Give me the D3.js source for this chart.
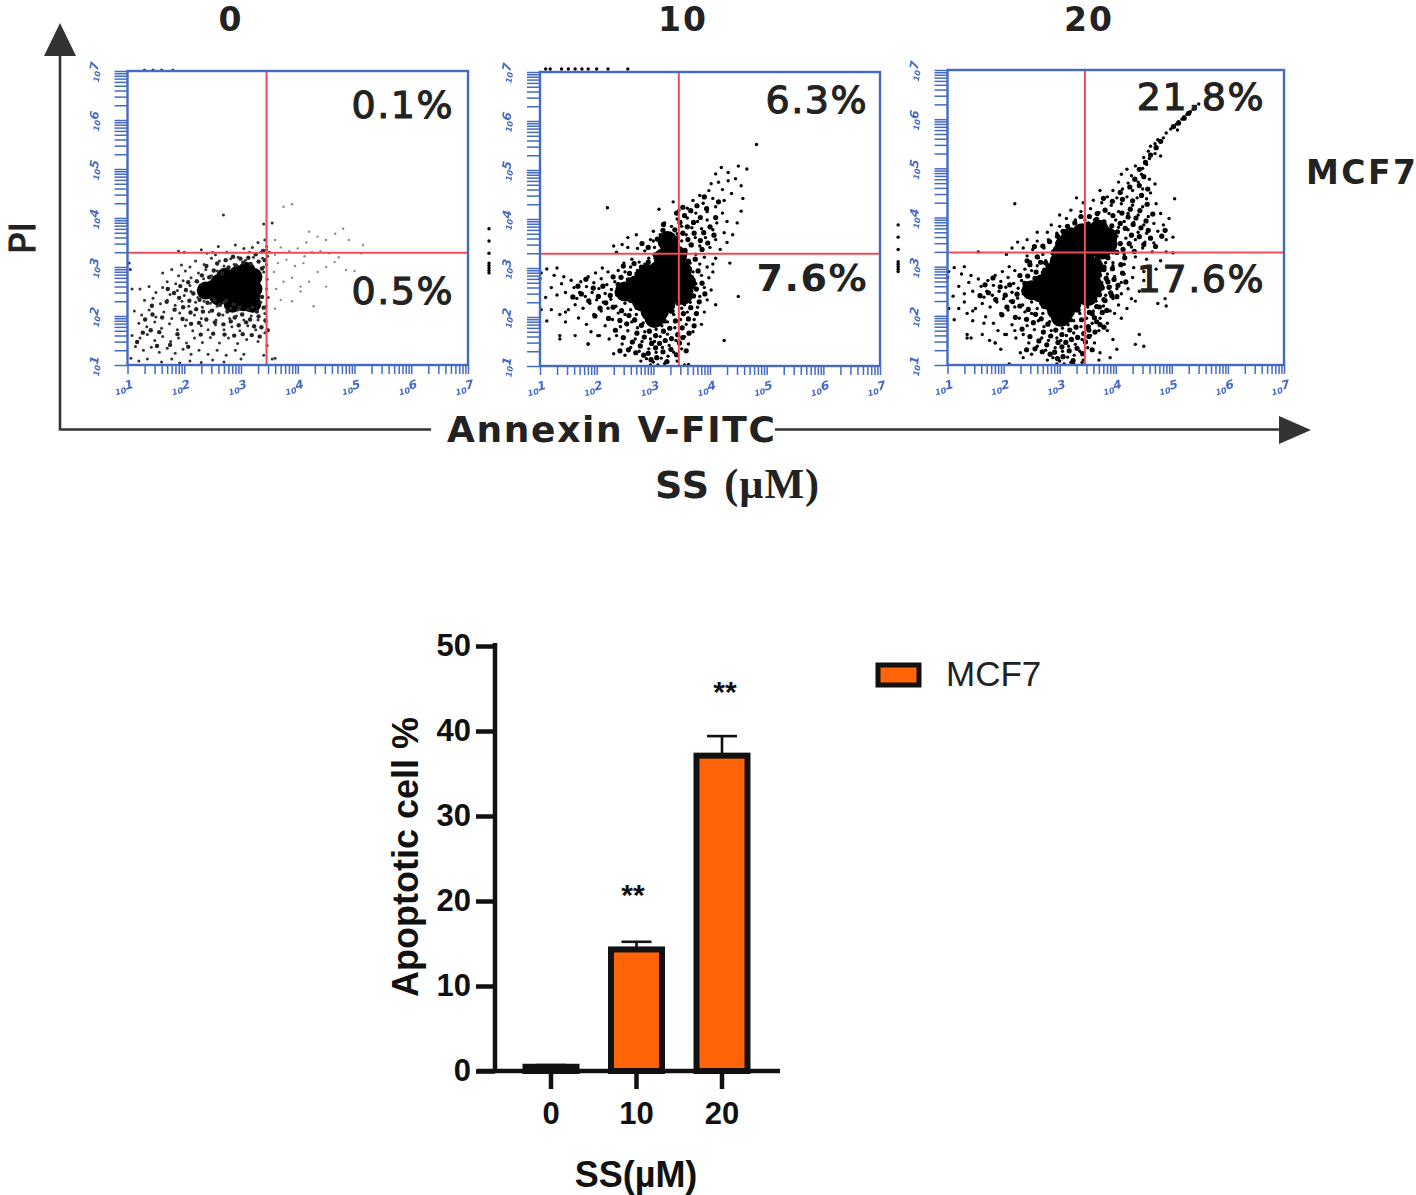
<!DOCTYPE html>
<html><head><meta charset="utf-8">
<script src="https://cdn.jsdelivr.net/npm/d3@7/dist/d3.min.js"></script>
<style>html,body{margin:0;padding:0;background:#fff}svg{display:block}</style></head>
<body><svg id="c" width="1416" height="1195"></svg>
<script>
// ---------- data ----------
const doses=["0","10","20"];
const apoptosis=[0.5,14.3,37.1];
const apoptosisErr=[0.7,15.2,39.4];
const starsOn=["10","20"];
const yTicks=[0,10,20,30,40,50];
const decades=[1,2,3,4,5,6,7];
const pctUpper=["0.1%","6.3%","21.8%"];
const pctLower=["0.5%","7.6%","17.6%"];
const gateX=[3.45,3.45,3.45];
const gateY=[3.29,3.29,3.29];

// all points: [log10 Annexin, log10 PI]
const p1Core=[[2.5,2.55],[2.65,2.55],[2.8,2.55],[2.95,2.55],[3.1,2.55],[3.22,2.55],[2.85,2.7],[3,2.72],[3.14,2.75],[3.22,2.8],[2.95,2.85],[3.1,2.92],[3.18,2.42],[3,2.4],[2.85,2.42],[3.05,2.28],[2.38,2.52],[2.62,2.68],[2.6,2.4],[2.72,2.8],[2.85,2.25],[3.2,2.25]];
const p1Halo=[[2.22,2.71],[2.31,2.83],[2.44,2.79],[2.52,2.93],[2.67,2.87],[2.78,2.99],[2.91,3.03],[3.04,3.09],[3.17,3.06],[3.31,3.11],[3.42,3.14],[3.37,2.97],[2.39,3.02],[2.58,3.07],[2.73,3.14],[2.86,3.21],[2.99,3.17],[3.13,3.19],[3.26,3.26],[3.39,3.33],[2.16,2.46],[2.09,2.31],[2.27,2.33],[2.41,2.27],[2.53,2.34],[2.63,2.23],[2.74,2.31],[2.87,2.24],[2.97,2.18],[3.13,2.13],[3.28,2.09],[3.4,2.17],[3.37,2.39],[2.49,2.11],[2.61,2.03],[2.76,2.09],[2.89,1.97],[3.02,2.03],[3.16,1.93],[3.31,1.99],[3.43,1.91],[2.33,2.09],[2.21,2.14],[2.11,2.07],[1.98,2.18],[1.91,2.37],[2.03,2.53],[1.93,2.61],[2.07,2.69],[1.82,2.47],[1.71,2.55],[1.69,2.29],[1.83,2.13],[2.54,1.87],[2.69,1.83],[2.82,1.89],[2.96,1.81],[3.09,1.87],[3.23,1.79],[3.36,1.77],[3.47,1.71],[2.26,1.86],[2.39,1.93],[2.12,1.84],[1.97,1.94],[3.03,1.63],[2.88,1.6],[3.19,1.61],[3.33,1.58],[2.71,1.62],[2.51,1.64],[1.56,1.67],[1.41,1.71],[1.27,1.66],[1.52,1.39],[1.75,1.41],[1.17,1.47],[2.07,1.37],[1.88,1.63],[1.61,1.97],[1.44,2.03],[1.31,1.93],[1.43,2.21],[2.29,1.62]];
const p1Cloud=[
[2.3,3.35],[2.6,3.42],[2.75,3.3],[2.9,3.45],[3.05,3.38],[3.2,3.4],[3.3,3.5],[3.42,3.55],[3.45,3.35],[3.35,3.3],[3.15,3.3],[2.5,3.3],[2.4,3.28],[1.9,3.32],[2,3.3],[2.2,3.12],[2.35,3.05],[2.48,3.18],[2.62,3.12],[2.7,3.02],[2.82,3.17],[2.95,3.2],[3.08,3.14],[3.22,3.2],[3.38,3.18],[3.45,3.05],[1.95,3.04],[2.1,3.0],[3.4,3.0],[3.47,3.22],[2.55,3.25],[2.88,3.05],
[1.62,2.88],[1.78,2.95],[1.9,2.82],[2.02,2.92],[2.12,2.78],[2.25,2.88],[2.38,2.95],[2.48,2.82],[2.58,2.92],[1.7,2.7],[1.85,2.66],[1.98,2.72],[2.1,2.62],[2.24,2.7],[2.34,2.76],[3.4,2.9],[3.46,2.75],[3.45,2.55],[3.48,2.38],[3.44,2.2],
[1.22,2.55],[1.38,2.6],[1.5,2.48],[1.62,2.58],[1.75,2.44],[1.88,2.52],[2,2.42],[2.12,2.5],[2.24,2.38],[2.35,2.3],[1.3,2.32],[1.45,2.36],[1.58,2.25],[1.7,2.32],[1.84,2.22],[1.96,2.3],[2.08,2.2],[2.2,2.28],[2.32,2.18],[2.46,2.26],[2.58,2.2],[2.7,2.28],[2.82,2.16],[2.95,2.12],[3.2,2.18],[3.35,2.28],[3.42,2.05],
[1.12,2.1],[1.25,2.02],[1.38,2.12],[1.5,1.98],[1.64,2.08],[1.78,1.95],[1.92,2.06],[2.04,1.92],[2.18,2.02],[2.3,1.95],[2.44,2.08],[2.56,1.92],[2.68,2.02],[2.8,1.95],[2.92,2.0],[3.05,1.92],[3.18,2.0],[3.3,1.92],[3.44,1.88],[1.2,1.85],[1.34,1.78],[1.48,1.88],[1.6,1.75],[1.74,1.84],[1.88,1.72],[2.02,1.8],[2.15,1.7],[2.3,1.8],[2.42,1.72],[2.55,1.82],[2.7,1.72],[2.84,1.78],[2.98,1.7],[3.12,1.8],[3.26,1.72],[3.42,1.66],
[1.08,1.6],[1.22,1.55],[1.35,1.62],[1.48,1.5],[1.62,1.58],[1.76,1.48],[1.9,1.55],[2.04,1.45],[2.18,1.55],[2.32,1.46],[2.46,1.56],[2.62,1.45],[2.78,1.55],[2.94,1.44],[3.1,1.52],[3.3,1.48],[3.46,1.4],[1.14,1.38],[1.28,1.3],[1.42,1.36],[1.56,1.26],[1.7,1.34],[1.84,1.24],[1.98,1.32],[2.12,1.22],[2.26,1.3],[2.42,1.22],[2.58,1.3],[2.74,1.2],[2.9,1.3],[3.05,1.22],[3.4,1.2],
[1.06,1.14],[1.2,1.08],[1.35,1.12],[1.6,1.06],[1.78,1.12],[1.92,1.04],[2.1,1.08],[2.3,1.05],[2.5,1.1],[2.7,1.06],[3.0,1.12],[3.55,1.12]];
const p1Faint=[[3.75,4.23],[3.9,4.28],[4.2,3.72],[4.35,3.62],[4.5,3.55],[4.66,3.68],[4.8,3.78],[4.9,3.55],[5.15,3.45],[5.12,3.28],[4.85,2.94],[5,2.92],[3.7,2.33],[4.28,2.2],[3.9,2.3],[3.62,2.55],[3.75,2.7],[3.9,2.78],[4.05,2.6],[4.2,2.7],[4.35,2.9],[4.5,3.0],[4.65,3.1],[3.6,3.25],[3.7,3.4],[3.85,3.32],[4,3.38],[4.12,3.22],[4.25,3.3],[4.4,3.32],[4.55,3.28],[4.72,3.2],[3.65,3.08],[3.8,3.15],[3.95,3.02],[4.1,3.08],[3.58,2.9],[3.6,2.15],[4.15,3.5],[3.6,3.55],[4.05,2.5],[4.5,2.6]];
const p1Dark=[[3.55,3.9],[3.4,3.88],[2.69,4.06],[3.5,3.3],[3.45,3.42],[1.03,3.08],[1.05,2.95],[1.08,2.55],[3.6,1.14]];
const p1Top=[[1.3,7.02],[1.45,7.02],[1.6,7.02],[1.8,7.02]];

const sharedCore=[[2.5,2.52],[2.65,2.48],[2.8,2.5],[2.95,2.5],[3.1,2.5],[3.25,2.5],[2.7,2.65],[2.85,2.7],[3,2.72],[3.15,2.75],[3.3,2.72],[3.38,2.85],[2.9,2.88],[3.1,2.95],[3.28,3.0],[2.8,2.32],[2.95,2.3],[3.1,2.3],[2.95,2.12],[3.1,2.12],[3.02,1.98],[3.22,2.3]];
const sharedHalo=[[2.38,2.66],[2.29,2.82],[2.43,2.81],[2.36,2.51],[2.24,2.44],[2.11,2.63],[2.03,2.42],[1.94,2.59],[1.86,2.33],[2.16,2.29],[2.29,2.2],[2.44,2.13],[2.57,2.03],[2.41,1.93],[2.53,1.86],[2.67,1.94],[2.79,1.83],[2.71,1.67],[2.84,1.59],[2.63,1.49],[2.77,1.41],[2.69,1.27],[2.83,1.22],[2.93,1.71],[2.97,1.46],[2.91,1.26],[3.04,1.62],[3.11,1.46],[3.04,1.37],[3.18,1.71],[3.21,1.52],[3.17,1.29],[3.06,1.17],[2.96,1.13],[3.24,1.09],[3.29,1.77],[3.32,1.56],[3.31,1.34],[3.39,1.92],[3.43,1.64],[3.19,1.92],[3.33,2.12],[3.44,2.28],[3.53,2.07],[3.62,1.96],[3.51,1.78],[3.63,1.67],[3.72,1.82],[3.66,2.19],[3.76,2.07],[3.59,2.36],[3.71,2.43],[3.81,2.31],[3.64,2.61],[3.76,2.57],[3.86,2.69],[3.67,2.81],[3.79,2.94],[3.54,3.02],[3.64,2.98],[3.91,2.47],[2.47,3.04],[2.58,2.89],[2.66,3.09],[2.79,3.02],[2.91,3.12],[3.02,3.06],[3.17,3.17],[2.71,2.88],[2.56,2.76],[1.73,2.47],[1.67,2.63],[1.58,2.41],[1.81,2.77],[2.06,2.18],[1.97,2.02],[2.21,1.97],[2.33,1.73],[2.47,1.58],[2.56,1.33],[2.41,1.31],[3.46,1.47],[3.41,1.23],[3.52,1.58],[3.58,1.31]];
const sharedCloud=[
[1.12,2.98],[1.3,3.0],[1.25,2.85],[1.42,2.82],[1.38,2.68],[1.55,2.75],[1.2,2.6],[1.1,2.4],[1.3,2.45],[1.45,2.5],[1.6,2.6],[1.72,2.72],[1.85,2.82],[1.98,2.9],[2.1,3.0],[2.2,2.92],[1.7,2.5],[1.82,2.62],[1.95,2.7],[2.08,2.78],[2.18,2.66],[1.65,2.38],[1.8,2.42],[1.92,2.5],[2.04,2.58],[2.15,2.48],[2.26,2.56],[2.32,2.72],[1.2,2.15],[1.35,2.05],[1.5,2.15],[1.62,2.25],[1.76,2.18],[1.88,2.28],[2,2.35],[2.12,2.3],[2.25,2.36],[1.12,1.92],[1.45,1.9],[1.68,1.98],[1.82,1.85],[1.95,2.05],[2.08,2.12],[2.2,2.18],[2.34,2.22],[1.35,1.55],[1.62,1.62],[1.9,1.7],[1.85,1.45],[2.05,1.62],[2.15,1.82],[2.28,1.95],[2.38,2.08],[2.42,1.8],[2.5,2.05],[2.6,2.15],[2.22,1.55],[2.35,1.62],[2.45,1.45],[2.55,1.72],[2.62,1.9],[2.7,2.05],[2.72,1.78],[2.68,1.55],[2.6,1.38],[2.5,1.22],[2.75,1.3],[2.8,1.5],[2.85,1.7],[2.9,1.9],[2.3,1.25],[2.95,1.55],[2.92,1.35],[2.88,1.15],[3.05,1.75],[3.02,1.5],[3.05,1.28],[3,1.08],[3.15,1.82],[3.12,1.6],[3.16,1.38],[3.14,1.16],[3.25,1.9],[3.25,1.65],[3.28,1.42],[3.26,1.2],[3.36,2.05],[3.38,1.78],[3.4,1.52],[3.36,1.28],[3.42,1.1],[2.78,1.1],[2.95,1.02],[3.08,1.02],[3.2,1.05],[3.5,1.35],[3.55,1.6],[3.58,1.85],[3.62,1.45],[3.6,2.1],[3.48,1.95],[3.7,1.7],[3.72,1.95],[3.78,2.2],[3.65,2.3],[3.55,2.25],[3.85,1.85],[3.9,2.1],[3.82,2.42],[3.68,2.52],[3.58,2.45],[3.95,2.35],[3.9,2.6],[3.75,2.68],[3.62,2.72],[3.5,2.62],[4.02,2.55],[3.98,2.8],[3.85,2.85],[3.7,2.92],[3.55,2.85],[3.5,3.05],[3.65,3.1],[3.82,3.08],[3.95,3.02],[2.5,2.92],[2.6,3.02],[2.72,2.95],[2.75,3.12],[2.62,3.18],[2.48,3.1],[2.85,3.08],[2.92,3.2],[3.05,3.12],[3.1,3.25],[2.38,2.95],[2.42,2.38],[2.5,2.28],[2.6,2.32],[2.7,2.18],[2.35,2.45],[3.42,2.4],[3.5,2.18],[3.35,2.2],[3.3,2.1],[2.85,2.02],[3.22,2.08],[2.98,1.85],[3.08,1.92],[3.5,2.9],[3.48,2.72],[2.82,1.88]];
const sharedDark=[[1.02,2.9],[1.0,2.78],[1.02,2.15],[1.45,2.1],[2.02,1.62],[1.35,1.62],[1.85,1.45]];
const p2Core=[[3.3,3.42],[3.25,3.55],[3.42,3.25],[3.18,3.2],[3.5,2.95],[3.58,2.7],[3.52,2.45]];
const p2Halo=[[3.07,3.59],[3.14,3.48],[3.22,3.63],[3.17,3.77],[3.31,3.66],[3.42,3.61],[3.38,3.78],[3.52,3.71],[3.61,3.58],[3.47,3.93],[3.6,3.84],[3.72,3.71],[3.83,3.56],[3.67,3.47],[3.56,3.36],[3.74,3.18],[3.86,3.38],[3.96,3.51],[3.89,3.72],[3.71,3.93],[3.55,4.07],[3.41,4.12],[3.52,4.24],[3.66,4.17],[3.83,4.03],[4,3.84],[4.07,3.67],[3.94,4.21],[3.77,4.27],[4.1,4.03],[3.9,4.45],[4.15,4.35],[3.03,3.27],[2.91,3.42],[2.8,3.5],[3.18,3.89],[3.5,3.2],[3.62,3.14]];
const p2Extra=[[4.82,5.52],[2.19,4.23],[4.65,5.02],[4.5,5.08],[4.2,5.05],[4.1,4.92],[4.32,4.95],[4.45,4.82],[4.32,4.78],[4.15,4.75],[4.02,4.72],[4.55,4.68],[3.98,4.58],[4.22,4.6],[4.38,4.52],[4.58,4.42],[3.82,4.48],[4.05,4.42],[4.25,4.38],[3.7,4.38],[3.88,4.32],[4.1,4.25],[4.55,4.16],[3.35,4.35],[3.1,4.2],[3.45,4.18],[3.6,4.22],[3.75,4.12],[3.95,4.15],[4.22,4.12],[3.42,4.0],[3.6,4.02],[3.78,3.95],[3.95,3.98],[4.12,3.92],[4.3,3.95],[4.48,3.92],[3.2,3.92],[3.32,3.85],[3.5,3.85],[3.68,3.82],[3.85,3.8],[4.05,3.78],[4.25,3.72],[4.4,3.68],[3.0,3.75],[3.12,3.68],[3.25,3.72],[3.42,3.7],[3.58,3.68],[3.74,3.62],[3.92,3.62],[4.1,3.58],[4.3,3.52],[3.0,3.55],[3.5,3.55],[3.65,3.48],[3.82,3.45],[4,3.42],[4.18,3.38],[2.55,3.62],[2.7,3.68],[2.95,3.58],[2.3,3.45],[2.45,3.48],[2.35,3.32],[2.55,3.42],[2.72,3.4],[2.85,3.35],[3.02,3.42],[3.58,3.3],[3.75,3.28],[3.9,3.22],[4.1,3.2],[4.35,3.1],[4.05,3.08],[4.05,2.92],[4.5,2.42],[4.1,2.25],[4.25,1.52],[3.55,1.02],[3.62,1.03]];
const p2Top=[[1.1,7.06],[1.18,7.06],[1.38,7.06],[1.5,7.06],[1.62,7.06],[1.74,7.06],[1.85,7.06],[2.0,7.06],[2.2,7.06],[2.55,7.06]];
const p2Left=[[0.1,3.8],[0.1,3.55],[0.1,3.3],[0.1,3.1],[0.1,3.05],[0.1,3.0],[0.1,2.95],[0.1,2.9]];

const p3Core=[[3.3,3.3],[3.45,3.15],[3.6,3.0],[3.55,2.8],[3.4,3.45],[3.25,3.48],[3.55,3.45],[3.7,3.55],[3.85,3.6],[3.55,3.65],[3.4,3.68],[3.7,3.75],[3.2,3.2],[3.05,3.3],[3.75,3.35],[3.6,2.6],[3.5,2.4],[3.0,3.1],[3.2,3.6],[3.1,3.45],[3.85,3.45]];
const p3Halo=[[2.6,3.2],[2.75,3.08],[2.88,3.28],[2.7,3.42],[2.82,3.51],[2.96,3.62],[3.06,3.72],[3.14,3.82],[3.27,3.89],[3.38,4.02],[3.51,3.87],[3.66,3.96],[3.79,3.91],[3.93,3.83],[4.03,3.71],[3.97,3.58],[4.08,3.47],[4.02,3.29],[4.16,3.18],[4.09,3.04],[3.94,2.96],[3.86,3.18],[3.79,2.99],[3.71,2.83],[3.83,2.76],[3.74,2.62],[3.88,2.58],[3.97,2.74],[3.68,2.44],[3.79,2.33],[3.93,2.41],[3.71,2.18],[3.84,2.11],[3.58,2.04],[3.66,1.88],[3.79,1.77],[3.52,1.71],[4.04,2.62],[4.12,2.87],[4.18,2.69],[4.02,2.39],[4.13,3.35],[4.24,3.47],[4.33,3.31],[4.42,3.61],[4.28,3.64],[4.17,3.78],[4.31,3.86],[4.45,3.79],[4.58,3.74],[4.62,3.58],[4.5,3.45],[4.71,3.41],[4.82,3.62],[4.88,3.74],[4.08,3.88],[4.22,4.01],[4.36,3.99],[4.54,3.93],[4.66,4.07],[3.53,4.02],[3.67,4.08],[3.81,4.15],[3.95,4.04],[4.11,4.09],[4.26,4.17],[4.43,4.14],[4.56,4.27],[3.78,4.39],[3.94,4.33],[4.12,4.37],[4.3,4.34],[4.46,4.45],[4.08,4.51],[4.25,4.62],[4.42,4.65],[4.57,4.58],[4.34,4.78],[4.5,4.83],[4.42,4.98],[4.53,5.12],[4.62,5.27],[4.72,5.42],[4.8,5.55],[5.03,5.85],[5.12,5.92],[5.22,6.02],[5.3,6.12],[2.42,3.12],[2.55,3.41]];
const p3Extra=[[5.48,6.31],[5.42,6.25],[5.38,6.2],[5.33,6.15],[5.27,6.1],[5.22,6.05],[5.18,6.0],[5.12,5.95],[5.08,5.9],[5.03,5.85],[4.98,5.8],[5.1,5.78],[4.9,5.72],[4.85,5.62],[4.75,5.58],[4.7,5.5],[4.62,5.45],[4.58,5.35],[4.7,5.3],[4.8,5.25],[4.5,5.22],[4.6,5.2],[4.55,5.08],[4.48,5.0],[4.35,5.05],[4.2,4.98],[4.46,4.88],[4.6,4.78],[4.28,4.85],[4.1,4.88],[4.05,4.72],[4.22,4.7],[4.4,4.72],[4.7,4.68],[3.95,4.55],[4.12,4.58],[4.3,4.55],[4.48,4.58],[4.62,4.5],[3.72,4.55],[3.85,4.42],[4.02,4.4],[4.2,4.42],[4.38,4.4],[4.55,4.38],[5.05,4.38],[3.6,4.35],[3.75,4.3],[3.92,4.25],[4.1,4.28],[4.3,4.25],[4.48,4.22],[4.72,4.28],[2.2,4.28],[3.3,4.4],[3.42,4.3],[3.2,4.15],[3.38,4.12],[3.55,4.18],[3.7,4.1],[3.88,4.08],[4.05,4.12],[4.22,4.08],[4.4,4.05],[4.58,4.02],[4.8,4.08],[3.0,4.05],[3.12,3.98],[3.28,3.95],[3.45,3.95],[3.62,3.95],[4.0,3.95],[4.15,3.92],[4.32,3.9],[4.5,3.85],[4.68,3.88],[4.85,3.85],[4.95,3.98],[2.85,3.85],[3.0,3.82],[3.15,3.8],[3.3,3.78],[4.05,3.8],[4.22,3.75],[4.4,3.7],[4.55,3.68],[4.75,3.72],[2.6,3.7],[2.78,3.7],[2.95,3.68],[3.1,3.65],[4.02,3.62],[4.18,3.58],[4.35,3.55],[4.52,3.5],[4.68,3.48],[4.9,3.55],[5.02,3.6],[2.25,3.5],[2.42,3.55],[2.6,3.52],[2.8,3.55],[2.95,3.48],[4.08,3.45],[4.28,3.4],[4.48,3.38],[4.65,3.3],[4.9,3.3],[5.02,3.28],[2.15,3.38],[2.35,3.38],[2.52,3.35],[2.72,3.38],[2.88,3.32],[3.95,3.28],[4.15,3.25],[4.35,3.2],[4.55,3.15],[4.8,3.12],[2.05,3.25],[1.55,3.3],[2.42,3.22],[2.7,3.25],[3.95,3.08],[4.15,3.05],[4.32,2.98],[4.5,2.9],[4.72,2.95],[4.15,2.85],[4.3,2.78],[4.5,2.72],[4.1,2.68],[4.22,2.55],[4.42,2.5],[4.1,2.45],[4.28,2.35],[4.05,2.22],[4.2,2.15],[4.35,2.3],[3.98,2.05],[4.1,1.95],[3.85,1.7],[3.95,1.52],[4.02,1.32],[3.72,1.25],[4.35,1.42],[4.5,1.38],[4.75,2.25],[4.9,2.2],[4.88,2.35],[4.42,1.62],[3.4,1.05],[3.7,1.1],[3.25,1.02],[3.9,1.15],[1.75,1.5],[2.2,1.7],[1.42,1.55],[1.65,1.85],[1.3,2.28],[1.95,1.32],[2.35,1.15],[2.1,1.02]];
const p3Left=[[0.12,3.85],[0.12,3.6],[0.12,3.35],[0.12,3.1],[0.12,3.05],[0.12,3.0],[0.12,2.95],[0.12,2.9]];

const panels=[
 {name:doses[0],core:[p1Core],halo:[p1Halo],cloud:[p1Cloud,p1Dark,p1Top],faint:p1Faint,box:[127.5,468,71,365],head:231,lab:[[454,118],[454,304]],lblW:[400,400]},
 {name:doses[1],core:[sharedCore,p2Core],halo:[sharedHalo,p2Halo],cloud:[sharedCloud,sharedDark,p2Extra,p2Top,p2Left],faint:[],box:[540,880,72,366],head:683,lab:[[868,113],[868,291]],lblW:[400,700]},
 {name:doses[2],core:[sharedCore,p3Core],halo:[sharedHalo,p3Halo],cloud:[sharedCloud,sharedDark,p3Extra,p3Left],faint:[],box:[947.5,1284,70,365],head:1089,lab:[[1265,110],[1265,292]],lblW:[400,400]}
];

// ---------- drawing ----------
const svg=d3.select("#c");
const defs=svg.append("defs");
defs.append("filter").attr("id","soft").append("feGaussianBlur").attr("stdDeviation",0.5);
const SANS="'DejaVu Sans',sans-serif", ARIAL="'Liberation Sans',Arial,sans-serif";
const BLUE="#456ac4", RED="#ee4b55", INK="#222";

function minorTicks(){const t=[];for(let d=1;d<7;d++){[1,2,3,4,5,6,7,8,9].forEach(k=>t.push(k*10**d));}t.push(1e7);return t;}

panels.forEach((p,i)=>{
  const [x0,x1,y0,y1]=p.box;
  const g=svg.append("g").attr("filter","url(#soft)");
  const x=d3.scaleLog().domain([10,1e7]).range([x0,x1]);
  const y=d3.scaleLog().domain([10,1e7]).range([y1,y0]);
  const X=v=>x(10**v), Y=v=>y(10**v);

  const pts=g.append("g");
  p.core.forEach(a=>pts.append("g").selectAll("circle").data(a).join("circle")
     .attr("cx",d=>X(d[0])).attr("cy",d=>Y(d[1])).attr("r",i===0?9:10).attr("fill","#000"));
  p.halo.forEach(a=>pts.append("g").selectAll("circle").data(a).join("circle")
     .attr("cx",d=>X(d[0])).attr("cy",d=>Y(d[1])).attr("r",i===0?2.2:2.6).attr("fill",i===0?"#222":"#000"));
  p.faint.length&&pts.append("g").selectAll("circle").data(p.faint).join("circle")
     .attr("cx",d=>X(d[0])).attr("cy",d=>Y(d[1])).attr("r",1.2).attr("fill","#8a8a8a");
  p.cloud.forEach(a=>pts.append("g").selectAll("circle").data(a).join("circle")
     .attr("cx",d=>X(d[0])).attr("cy",d=>Y(d[1])).attr("r",i===0?1.5:1.7).attr("fill",i===0?"#333":"#000"));

  // quadrant gates
  g.append("line").attr("x1",X(gateX[i])).attr("x2",X(gateX[i])).attr("y1",y0).attr("y2",y1).attr("stroke",RED).attr("stroke-width",2);
  g.append("line").attr("x1",x0).attr("x2",x1).attr("y1",Y(gateY[i])).attr("y2",Y(gateY[i])).attr("stroke",RED).attr("stroke-width",2);

  // blue frame and log axes
  g.append("rect").attr("x",x0).attr("y",y0).attr("width",x1-x0).attr("height",y1-y0).attr("fill","none").attr("stroke",BLUE).attr("stroke-width",2.4);
  const ax=d3.axisBottom(x).tickValues(minorTicks()).tickSize(9).tickFormat("");
  const gx=g.append("g").attr("transform",`translate(0,${y1})`).call(ax);
  const ay=d3.axisLeft(y).tickValues(minorTicks()).tickSize(13).tickFormat("");
  const gy=g.append("g").attr("transform",`translate(${x0},0)`).call(ay);
  [gx,gy].forEach(s=>{s.select(".domain").remove();s.selectAll("line").attr("stroke",BLUE).attr("stroke-width",1.5);});
  decades.forEach(d=>{
    const tx=g.append("text").attr("transform",`translate(${X(d)-2},${y1+28}) rotate(-14)`).attr("text-anchor","middle")
      .attr("fill",BLUE).attr("font-family",SANS).attr("font-style","italic").attr("font-weight","bold");
    tx.append("tspan").attr("font-size",8).text("10");tx.append("tspan").attr("font-size",12).attr("dy",-3).text(d);
    const ty=g.append("text").attr("transform",`translate(${x0-27},${Y(d)+2}) rotate(-80)`).attr("text-anchor","middle")
      .attr("fill",BLUE).attr("font-family",SANS).attr("font-style","italic").attr("font-weight","bold");
    ty.append("tspan").attr("font-size",8).text("10");ty.append("tspan").attr("font-size",12).attr("dy",-3).text(d);
  });

  // labels
  svg.append("text").attr("x",p.head).attr("y",31).attr("text-anchor","middle").attr("font-family",SANS).attr("font-weight",700).attr("font-size",33).attr("letter-spacing",2).attr("fill",INK).text(p.name);
  [pctUpper[i],pctLower[i]].forEach((t,k)=>{
    svg.append("text").attr("x",p.lab[k][0]).attr("y",p.lab[k][1]).attr("text-anchor","end").attr("font-family",SANS)
      .attr("font-weight",p.lblW[k]).attr("font-size",38).attr("letter-spacing",1.5)
      .attr("fill",INK).attr("stroke",p.lblW[k]===400?INK:"none").attr("stroke-width",1.1).text(t);
  });
});

// flow-cytometry outer arrows
const AR="#333";
svg.append("path").attr("d","M60,50V429.5H431M775,429.5H1285").attr("fill","none").attr("stroke",AR).attr("stroke-width",2.6);
svg.append("path").attr("d","M60,23L44,56H76Z").attr("fill",AR);
svg.append("path").attr("d","M1311,430L1279,416V444Z").attr("fill",AR);
svg.append("text").attr("transform","translate(35,238) rotate(-90)").attr("text-anchor","middle").attr("font-family",SANS).attr("font-size",36).attr("stroke",INK).attr("stroke-width",1).attr("fill",INK).text("PI");
svg.append("text").attr("x",447).attr("y",442).attr("textLength",328).attr("font-family",SANS).attr("font-weight",700).attr("font-size",36).attr("fill",INK).text("Annexin V-FITC");
svg.append("text").attr("x",1306).attr("y",184).attr("textLength",110).attr("font-family",SANS).attr("font-weight",700).attr("font-size",33).attr("fill",INK).text("MCF7");
const ss=svg.append("text").attr("x",655).attr("y",498).attr("font-weight",700).attr("fill",INK);
ss.append("tspan").attr("font-family",SANS).attr("font-size",38).attr("letter-spacing",1).text("SS ");
ss.append("tspan").attr("font-family","'Liberation Serif',serif").attr("font-size",42).attr("letter-spacing",1).text("(µM)");

// bar chart
const bx=d3.scaleBand().domain(doses).range([508.4,764.6]).paddingInner(0.4035).paddingOuter(0.2);
const by=d3.scaleLinear().domain([0,50]).range([1071,646]);
const bg=svg.append("g");
const BAR="#ff6408", K="#111";
const cx=d=>bx(d)+bx.bandwidth()/2;
bg.selectAll("line.err").data(doses).join("line").attr("class","err").attr("x1",cx).attr("x2",cx)
  .attr("y1",(d,i)=>by(apoptosis[i])).attr("y2",(d,i)=>by(apoptosisErr[i])).attr("stroke",K).attr("stroke-width",2.6);
bg.selectAll("line.cap").data(doses).join("line").attr("class","cap").attr("x1",d=>cx(d)-15).attr("x2",d=>cx(d)+15)
  .attr("y1",(d,i)=>by(apoptosisErr[i])).attr("y2",(d,i)=>by(apoptosisErr[i])).attr("stroke",K).attr("stroke-width",2.6);
bg.selectAll("rect").data(doses).join("rect").attr("x",d=>bx(d)).attr("width",bx.bandwidth())
  .attr("y",(d,i)=>by(apoptosis[i])).attr("height",(d,i)=>by(0)-by(apoptosis[i])).attr("fill",BAR).attr("stroke",K).attr("stroke-width",6);
const ayB=bg.append("g").attr("transform","translate(495,0)").call(d3.axisLeft(by).tickValues(yTicks).tickSize(19).tickPadding(5).tickFormat(d3.format("d")));
const axB=bg.append("g").attr("transform","translate(0,1071)").call(d3.axisBottom(bx).tickSize(18).tickPadding(13));
ayB.select(".domain").attr("d","M0,643V1073").attr("stroke",K).attr("stroke-width",4.5);
axB.select(".domain").attr("d","M477,0H780").attr("stroke",K).attr("stroke-width",4.5);
[ayB,axB].forEach(s=>{s.selectAll(".tick line").attr("stroke",K).attr("stroke-width",4.5);
  s.selectAll("text").attr("font-family",ARIAL).attr("font-weight",700).attr("font-size",31).attr("fill",K);});
starsOn.forEach((d,i)=>{
  svg.append("text").attr("x",[633,725][i]).attr("y",[905,702][i]).attr("text-anchor","middle").attr("font-family",ARIAL).attr("font-weight",700).attr("font-size",30).attr("fill",K).text("**");
});
svg.append("text").attr("transform","translate(418,857) rotate(-90)").attr("text-anchor","middle").attr("font-family",ARIAL).attr("font-weight",700).attr("font-size",36).attr("fill",K).text("Apoptotic cell %");
svg.append("text").attr("x",636).attr("y",1187).attr("text-anchor","middle").attr("font-family",ARIAL).attr("font-weight",700).attr("font-size",36).attr("fill",K).text("SS(µM)");
svg.append("rect").attr("x",878).attr("y",665).attr("width",41).attr("height",20).attr("fill",BAR).attr("stroke",K).attr("stroke-width",5);
svg.append("text").attr("x",946).attr("y",686).attr("font-family",ARIAL).attr("font-size",35).attr("fill","#222").text("MCF7");
</script></body></html>
